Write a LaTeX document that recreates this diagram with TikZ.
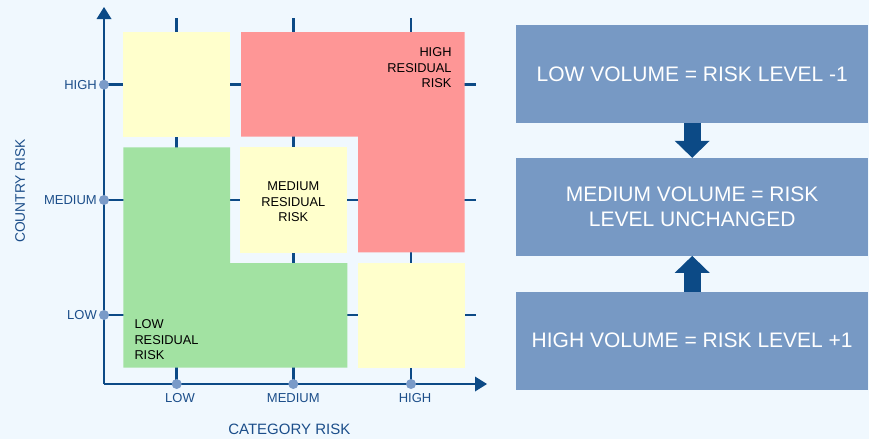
\documentclass[tikz,border=0pt]{standalone}
\usepackage{fontspec}
\setmainfont{Liberation Sans}
\usetikzlibrary{arrows.meta}

\definecolor{bg}{RGB}{240,248,254}
\definecolor{navy}{RGB}{12,74,134}
\definecolor{dotblue}{RGB}{122,155,200}
\definecolor{boxblue}{RGB}{119,153,196}
\definecolor{lowgreen}{RGB}{162,226,162}
\definecolor{medyellow}{RGB}{255,255,204}
\definecolor{highred}{RGB}{254,150,150}
\definecolor{labelblue}{RGB}{28,78,138}

\tikzstyle{gridline} = [draw, navy, line width=2.6pt]
\tikzstyle{axis} = [draw, navy, line width=2.6pt, -{Triangle[width=15pt,length=12pt,line width=0pt]}]
\tikzstyle{tickdot} = [fill=dotblue]
\tikzstyle{ticklabel} = [text=labelblue, font=\fontsize{13}{15}\selectfont, inner sep=0pt]
\tikzstyle{risklabel} = [font=\fontsize{12.8}{15.5}\selectfont, inner sep=0pt]
\tikzstyle{volbox} = [fill=boxblue, text=white, minimum width=352.3pt, minimum height=97.7pt, align=center, font=\fontsize{21}{25.6}\selectfont, inner sep=0pt]
\tikzstyle{blockarrow} = [draw, navy, line width=17pt, -{Triangle[width=35pt,length=17pt,line width=0pt]}]

\begin{document}
\begin{tikzpicture}[x=1pt,y=1pt]
\fill[bg] (0,0) rectangle (869,-439);% background

%grid
\foreach \x in {176.7,293.3,411} \draw[gridline] (\x,-18) -- (\x,-384);
\foreach \y in {84.7,200,315} \draw[gridline] (104,-\y) -- (476,-\y);

%zones
\fill[medyellow] (123.3,-32) rectangle (230,-137.3);% top left
\fill[highred] (241,-32) -- (464.7,-32) -- (464.7,-252.3) -- (358,-252.3) -- (358,-136.7) -- (241,-136.7) -- cycle;% high
\fill[medyellow] (240,-147.3) rectangle (347.3,-252.7);% medium
\fill[lowgreen] (123.3,-147.3) -- (230,-147.3) -- (230,-263) -- (347.3,-263) -- (347.3,-367.7) -- (123.3,-367.7) -- cycle;% low
\fill[medyellow] (358,-263) rectangle (464.7,-368);% bottom right

%axes
\draw[axis] (104,-384) -- (104,-7);
\draw[axis] (104,-384) -- (487,-384);
\foreach \x in {176.7,293.3,411} \fill[tickdot] (\x,-384) circle (5);
\foreach \y in {84.7,200,315} \fill[tickdot] (104,-\y) circle (5);

\node[ticklabel, anchor=east] (yhigh) at (97,-84.7) {HIGH};%
\node[ticklabel, anchor=east] (ymed) at (97,-200) {MEDIUM};%
\node[ticklabel, anchor=east] (ylow) at (97,-315) {LOW};%
\node[ticklabel] (xlow) at (180,-398.3) {LOW};%
\node[ticklabel] (xmed) at (293.3,-398.3) {MEDIUM};%
\node[ticklabel] (xhigh) at (415,-398.3) {HIGH};%
\node[text=labelblue, font=\fontsize{15}{18}\selectfont, inner sep=0pt] (catrisk) at (289.3,-429) {CATEGORY RISK};%
\node[text=labelblue, font=\fontsize{13.8}{16}\selectfont, inner sep=0pt, rotate=90] (ctryrisk) at (20,-190.8) {COUNTRY RISK};%

\node[risklabel, align=right, anchor=east] (highrisk) at (451.7,-67.7) {HIGH\\RESIDUAL\\RISK};%
\node[risklabel, align=center] (medrisk) at (293.3,-202) {MEDIUM\\RESIDUAL\\RISK};%
\node[risklabel, align=left, anchor=west] (lowrisk) at (134.3,-340) {LOW\\RESIDUAL\\RISK};%

%volume
\node[volbox] (lowvol) at (692.2,-73.85) {LOW VOLUME = RISK LEVEL -1};
\node[volbox] (medvol) at (692.2,-206.85) {MEDIUM VOLUME = RISK\\LEVEL UNCHANGED};
\node[volbox] (highvol) at (692.2,-340.65) {HIGH VOLUME = RISK LEVEL +1};
\draw[blockarrow] (lowvol.south) -- (medvol.north);
\draw[blockarrow] (highvol.north) -- (medvol.south);
\end{tikzpicture}
\end{document}
